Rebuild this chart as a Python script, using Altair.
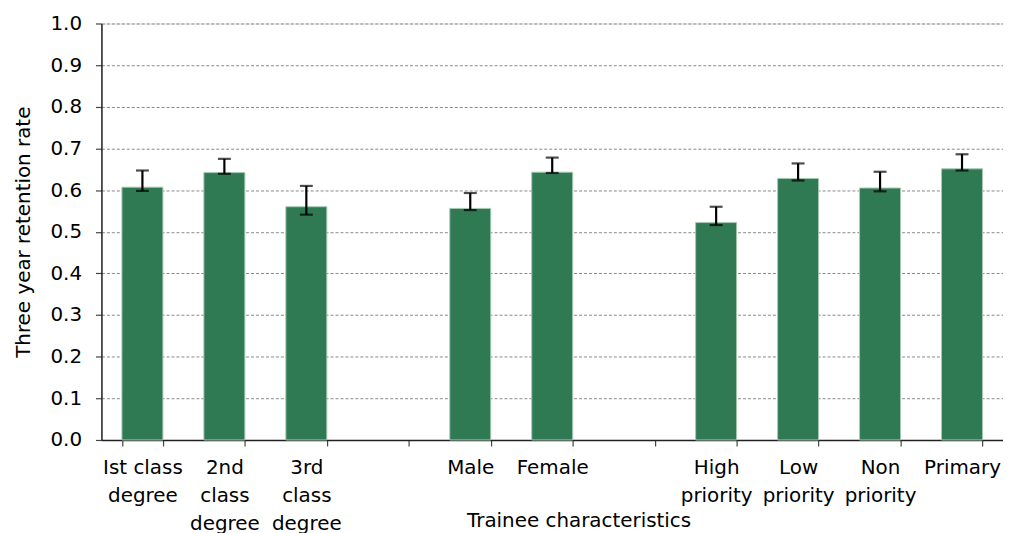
import altair as alt
import pandas as pd

categories = ["Ist class|degree", "2nd|class|degree", "3rd|class|degree", "gap1",
              "Male", "Female", "gap2",
              "High|priority", "Low|priority", "Non|priority", "Primary"]
bar_categories = ["Ist class|degree", "2nd|class|degree", "3rd|class|degree",
                  "Male", "Female",
                  "High|priority", "Low|priority", "Non|priority", "Primary"]
rates = [0.607, 0.642, 0.560, 0.556, 0.643, 0.522, 0.628, 0.605, 0.651]
upper = [0.647, 0.675, 0.610, 0.593, 0.678, 0.560, 0.664, 0.644, 0.686]
lower = [0.598, 0.639, 0.541, 0.552, 0.641, 0.516, 0.623, 0.597, 0.647]
y_ticks = [0.0, 0.1, 0.2, 0.3, 0.4, 0.5, 0.6, 0.7, 0.8, 0.9, 1.0]

df = pd.DataFrame({"cat": bar_categories, "rate": rates, "hi": upper, "lo": lower})

FONT = "DejaVu Sans"
FS = 20

x_enc = alt.X(
    "cat:N",
    scale=alt.Scale(domain=categories, paddingInner=0.5, paddingOuter=0.25),
    sort=categories,
    axis=alt.Axis(
        title="Trainee characteristics",
        labelExpr="indexof(datum.label, 'gap') == 0 ? '' : split(datum.label, '|')",
        labelAngle=0,
        labelFont=FONT, labelFontSize=FS, labelColor="#000000",
        labelLineHeight=28, labelBaseline="top", labelPadding=12,
        tickBand="extent", tickSize=6, tickColor="#444444", tickWidth=1.2,
        domainColor="#222222", domainWidth=1.5,
        titleFont=FONT, titleFontSize=FS, titleFontWeight="normal", titleColor="#000000",
        titleX=480, titleY=87, titleBaseline="alphabetic", titleAlign="center",
        grid=False,
    ),
)

y_scale = alt.Scale(domain=[0, 1], nice=False)

bars = alt.Chart(df).mark_bar(color="#2f7a53", stroke="#a5c9b3", strokeWidth=1).encode(
    x=x_enc,
    y=alt.Y(
        "rate:Q",
        scale=y_scale,
        axis=alt.Axis(
            title="Three year retention rate",
            values=y_ticks, format=".1f",
            labelFont=FONT, labelFontSize=FS, labelColor="#000000", labelPadding=14,
            tickSize=6, tickColor="#444444", tickWidth=1.2,
            domainColor="#222222", domainWidth=1.5,
            grid=True, gridDash=[3, 2], gridColor="#888888", gridWidth=1,
            titleFont=FONT, titleFontSize=FS, titleFontWeight="normal", titleColor="#000000",
            titlePadding=17,
        ),
    ),
)

rules = alt.Chart(df).mark_rule(color="#000000", strokeWidth=2.2).encode(
    x=alt.X("cat:N", sort=categories),
    y=alt.Y("lo:Q", scale=y_scale),
    y2="hi:Q",
)
caps_hi = alt.Chart(df).mark_tick(color="#000000", thickness=2.2, size=13, orient="horizontal").encode(
    x=alt.X("cat:N", sort=categories),
    y=alt.Y("hi:Q", scale=y_scale),
)
caps_lo = alt.Chart(df).mark_tick(color="#000000", thickness=2.2, size=13, orient="horizontal").encode(
    x=alt.X("cat:N", sort=categories),
    y=alt.Y("lo:Q", scale=y_scale),
)

chart = alt.layer(bars, rules, caps_hi, caps_lo).properties(
    width=907, height=419,
    autosize=alt.AutoSizeParams(type="none"),
    padding={"left": 94, "top": 14, "right": 0, "bottom": 92},
).configure_view(stroke=None).configure(background="white")

chart.save("out.html", embed_options={"renderer": "svg", "actions": False})
